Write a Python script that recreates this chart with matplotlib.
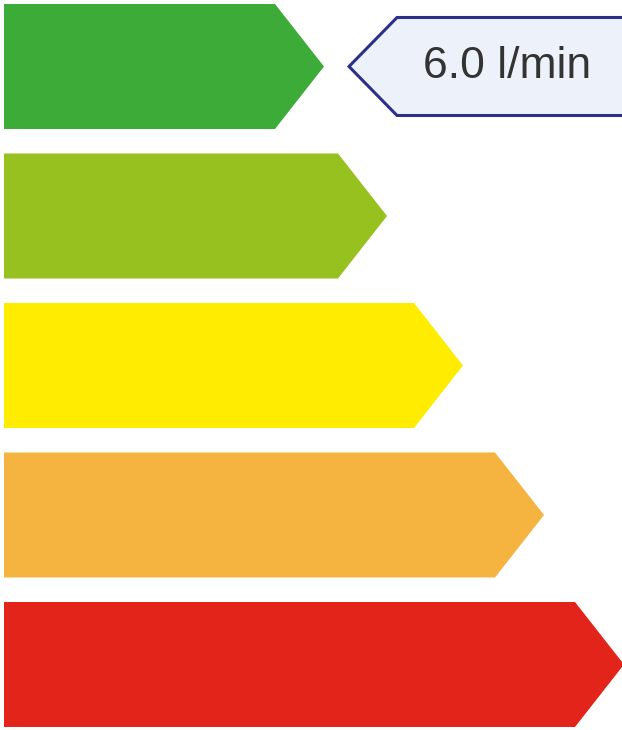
import matplotlib.pyplot as plt
from matplotlib.patches import Polygon

# --- Chart data ---
classes = ["A", "B", "C", "D", "E"]
bar_lengths = [271, 334, 410, 491, 571]  # length of the rectangular part [px]
colors = ["#3dab37", "#97c11f", "#ffec00", "#f5b440", "#e3241b"]
indicator_class = 0
indicator_label = "6.0 l/min"

# --- Layout ---
x0 = 4
bar_h = 125
gap = 24.5
tip = 49

fig = plt.figure(figsize=(6.22, 7.30), dpi=100)
ax = fig.add_axes([0, 0, 1, 1])
ax.set_xlim(0, 622)
ax.set_ylim(730, 0)
ax.axis("off")

for i, (name, length, color) in enumerate(zip(classes, bar_lengths, colors)):
    top = 4 + i * (bar_h + gap)
    bottom = top + bar_h
    mid = (top + bottom) / 2
    end = x0 + length
    pts = [(x0, top), (end, top), (end + tip, mid), (end, bottom), (x0, bottom)]
    ax.add_patch(Polygon(pts, closed=True, facecolor=color, edgecolor="none"))

# --- Indicator arrow ---
top = 4 + indicator_class * (bar_h + gap)
mid = top + bar_h / 2
tip_x = x0 + bar_lengths[indicator_class] + tip + 25
ind_h = 98
ind_pts = [(tip_x, mid), (tip_x + 48, mid - ind_h / 2), (640, mid - ind_h / 2),
           (640, mid + ind_h / 2), (tip_x + 48, mid + ind_h / 2)]
ax.add_patch(Polygon(ind_pts, closed=True, facecolor="#edf1fa",
                     edgecolor="#2b3088", linewidth=2.2, clip_on=True))
ax.text(507, mid, indicator_label, ha="center", va="center",
        fontsize=32, color="#333333", family="Liberation Sans")

fig.savefig("out.png", dpi=100)
